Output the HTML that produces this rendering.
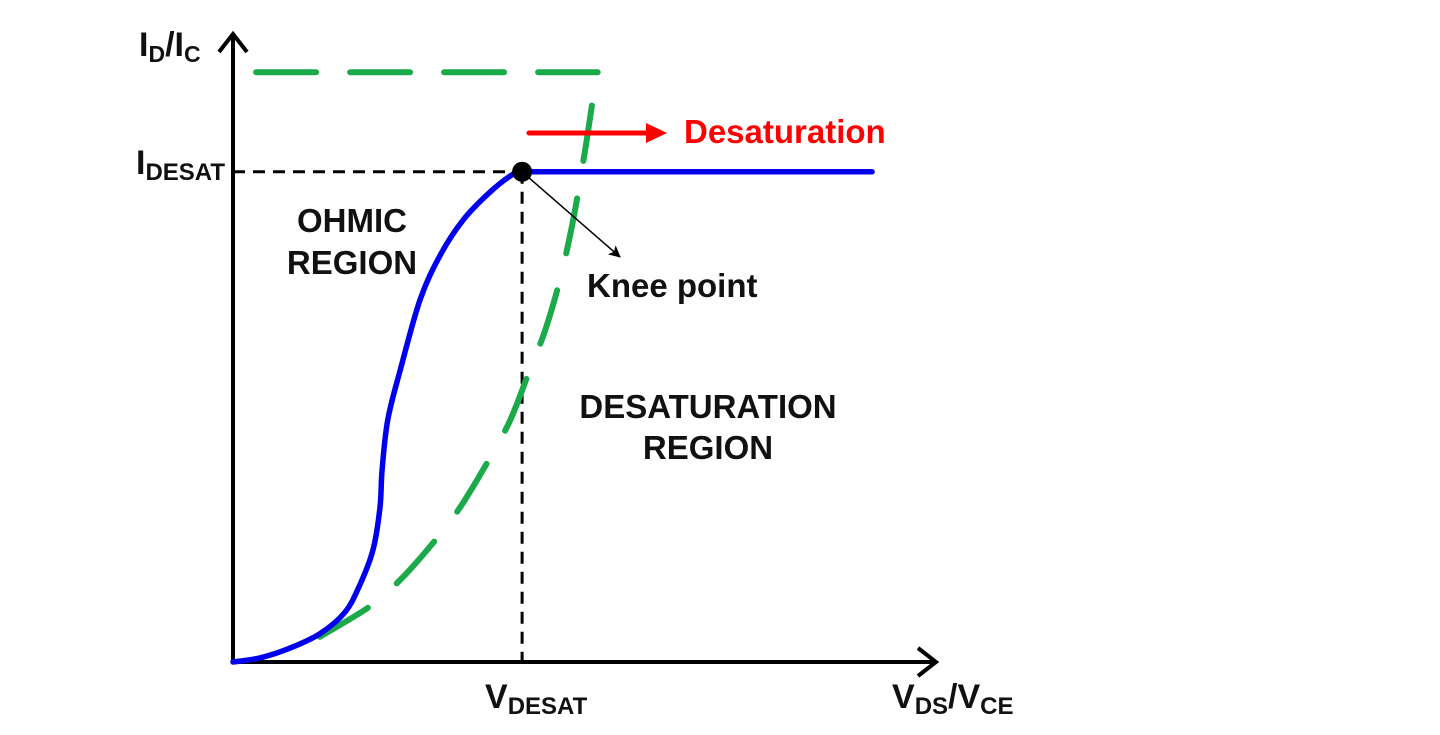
<!DOCTYPE html>
<html><head><meta charset="utf-8"><style>
html,body{margin:0;padding:0;background:#fff;width:1440px;height:735px;overflow:hidden}
svg text{font-family:"Liberation Sans",Arial,sans-serif;}
</style></head><body>
<svg width="1440" height="735" viewBox="0 0 1440 735">
<defs>
<marker id="ah" markerWidth="12" markerHeight="12" refX="11" refY="6" orient="auto" markerUnits="userSpaceOnUse"><path d="M0,0 L12,6 L0,12 L3,6 Z" fill="#000"/></marker>
</defs>
<g id="plot"></g>
<text x="139" y="56" font-size="34" font-weight="bold" fill="#111">I<tspan font-size="23" dy="6">D</tspan><tspan dy="-6">/I</tspan><tspan font-size="23" dy="6">C</tspan></text>
<text x="136" y="174" font-size="34" font-weight="bold" fill="#111">I<tspan font-size="24" dy="6">DESAT</tspan></text>
<text x="485" y="708" font-size="34" font-weight="bold" fill="#111">V<tspan font-size="24" dy="6">DESAT</tspan></text>
<text x="892" y="708" font-size="34" font-weight="bold" fill="#111">V<tspan font-size="24" dy="6">DS</tspan><tspan dy="-6">/V</tspan><tspan font-size="24" dy="6">CE</tspan></text>
<text x="352" y="232" font-size="33" font-weight="bold" text-anchor="middle" fill="#111">OHMIC</text>
<text x="352" y="274" font-size="33" font-weight="bold" text-anchor="middle" fill="#111">REGION</text>
<text x="587" y="297" font-size="33" font-weight="bold" fill="#111">Knee point</text>
<text x="708" y="418" font-size="33" font-weight="bold" text-anchor="middle" fill="#111">DESATURATION</text>
<text x="708" y="459" font-size="33" font-weight="bold" text-anchor="middle" fill="#111">REGION</text>
<text x="684" y="143" font-size="33" font-weight="bold" fill="#f00">Desaturation</text>
</svg>
<script>
const blueV=[0,0.39,0.81,1.24,1.6,1.81,2.0,2.1,2.13,2.21,2.39,2.67,2.96,3.29,3.67,4.0,4.13];
const blueI=[0,0.07,0.23,0.47,0.83,1.28,1.87,2.58,3.2,4.03,4.87,6.03,6.78,7.37,7.83,8.13,8.17];
const blueFlatV=[4.13,9.13];
const blueFlatI=[8.17,8.17];
const greenV=[1.24,1.96,2.39,2.89,3.24,3.63,3.96,4.24,4.46,4.67,4.86,5.03,5.14,5.21];
const greenI=[0.42,0.93,1.37,2.03,2.57,3.32,4.03,4.87,5.53,6.37,7.37,8.53,9.37,9.83];
const greenTopV=[0.33,5.21];
const greenTopI=[9.83,9.83];
const kneeV=[4.13];
const kneeI=[8.17];
const xs=v=>233+v*70;
const ys=i=>662-i*60;
const NS='http://www.w3.org/2000/svg';
const g=document.getElementById('plot');
function mk(tag,attrs){const e=document.createElementNS(NS,tag);for(const k in attrs)e.setAttribute(k,attrs[k]);g.appendChild(e);return e;}
function smoothPath(V,I){
  const P=V.map((v,k)=>[xs(v),ys(I[k])]);
  let d='M'+P[0][0].toFixed(1)+','+P[0][1].toFixed(1);
  for(let k=0;k<P.length-1;k++){
    const p0=P[k-1]||P[k],p1=P[k],p2=P[k+1],p3=P[k+2]||P[k+1];
    const c1=[p1[0]+(p2[0]-p0[0])/6,p1[1]+(p2[1]-p0[1])/6];
    const c2=[p2[0]-(p3[0]-p1[0])/6,p2[1]-(p3[1]-p1[1])/6];
    d+='C'+c1.map(n=>n.toFixed(1)).join(',')+' '+c2.map(n=>n.toFixed(1)).join(',')+' '+p2[0].toFixed(1)+','+p2[1].toFixed(1);
  }
  return d;
}
const kx=xs(kneeV[0]),ky=ys(kneeI[0]);
let e=mk('line',{x1:233,y1:ky,x2:kx,y2:ky,stroke:'#000','stroke-width':3,'stroke-dasharray':'12,8'});


e=mk('line',{x1:kx,y1:ky,x2:kx,y2:662,stroke:'#000','stroke-width':3,'stroke-dasharray':'12,8'});


e=mk('path',{d:'M233,663 L233,34 M219,52 L233,34 L247,52',fill:'none',stroke:'#000','stroke-width':4});


e=mk('path',{d:'M231,662 L936,662 M918,648 L936,662 L918,676',fill:'none',stroke:'#000','stroke-width':4});


e=mk('path',{d:smoothPath(greenV,greenI),fill:'none',stroke:'#1aaa4a','stroke-width':6,'stroke-linecap':'round','stroke-dasharray':'56,38'});


e=mk('path',{d:'M'+xs(greenTopV[0])+','+ys(greenTopI[0])+' L'+xs(greenTopV[1])+','+ys(greenTopI[1]),fill:'none',stroke:'#1aaa4a','stroke-width':6,'stroke-linecap':'round','stroke-dasharray':'60,34'});


e=mk('path',{d:smoothPath(blueV,blueI),fill:'none',stroke:'#0000ee','stroke-width':5.5,'stroke-linejoin':'round','stroke-linecap':'round'});


e=mk('path',{d:'M'+xs(blueFlatV[0])+','+ys(blueFlatI[0])+' L'+xs(blueFlatV[1])+','+ys(blueFlatI[1]),fill:'none',stroke:'#0000ee','stroke-width':5.5,'stroke-linecap':'round'});


e=mk('path',{d:'M529,133 L652,133',stroke:'#f00','stroke-width':5,'stroke-linecap':'round'});


e=mk('path',{d:'M646,123 L667,133 L646,143 Z',fill:'#f00'});


e=mk('line',{x1:kx,y1:ky,x2:620,y2:257,stroke:'#000','stroke-width':1.5,'marker-end':'url(#ah)'});


e=mk('circle',{cx:kx,cy:ky,r:10,fill:'#000'});


</script>
</body></html>
